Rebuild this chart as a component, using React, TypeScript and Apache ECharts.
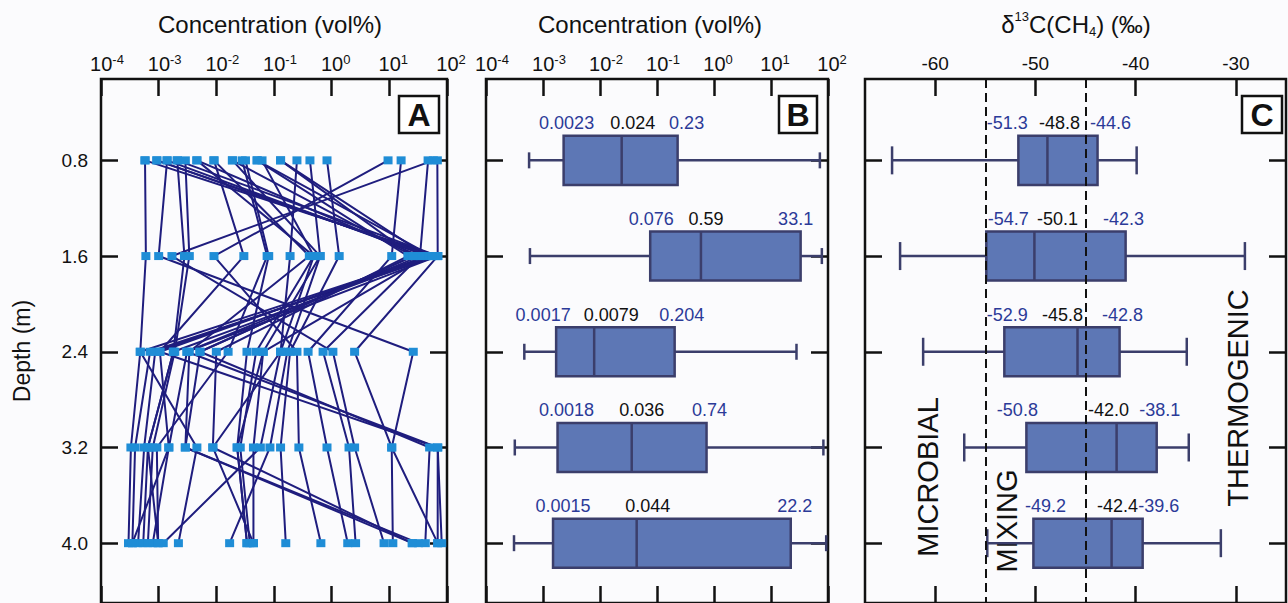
import React, { useEffect, useRef } from 'react';
import * as echarts from 'echarts';

const FONT = 'Liberation Sans, Arial, Helvetica, sans-serif';
const INK = '#111111';
const BLUE_TXT = '#2b3a98';
const BOX_FILL = '#5d77b5';
const BOX_EDGE = '#3b3e6b';

// ---------- data ----------
const depths = [0.8, 1.6, 2.4, 3.2, 4.0];
const depthTickLabels = ['0.8', '1.6', '2.4', '3.2', '4.0'];
const concTickExponents = ['-4', '-3', '-2', '-1', '0', '1', '2'];
const deltaTickValues = [-60, -50, -40, -30];
const deltaTickLabels = ['-60', '-50', '-40', '-30'];
const zoneBounds = [-55, -45];
const zoneNames = ['MICROBIAL', 'MIXING', 'THERMOGENIC'];
const panelLetters = ['A', 'B', 'C'];
const axisTitles = ['Concentration (vol%)', 'Concentration (vol%)'];

// Panel A: individual profiles, concentration (vol%) at 0.8, 1.6, 2.4, 3.2, 4.0 m
const profiles: number[][] = [
  [5.8e-4, 6.0e-4, 4.8e-4, 3.3e-4, 3.0e-4],
  [5.8e-4, 69, 7.1e-4, 3.9e-4, 3.5e-4],
  [9.3e-4, 55, 8.7e-4, 5.6e-4, 4.4e-4],
  [1.4e-3, 45, 1.05e-3, 69, 81],
  [2.1e-3, 2.8e-3, 1.8e-3, 6.5e-4, 5.4e-4],
  [2.9e-3, 3.4e-3, 1.9e-3, 7.9e-4, 6.5e-4],
  [4.6e-3, 34, 3.1e-3, 1.5e-3, 7.9e-4],
  [9.1e-3, 0.41, 3.4e-3, 2.9e-3, 32],
  [0.019, 26, 5.2e-3, 50, 42],
  [0.028, 0.076, 0.016, 9.3e-4, 9.8e-4],
  [0.032, 0.081, 0.034, 0.023, 0.034],
  [0.051, 21, 0.010, 8.7e-3, 25],
  [0.062, 0.49, 0.049, 0.026, 0.038],
  [0.13, 45, 0.065, 0.044, 0.044],
  [0.25, 0.19, 0.13, 0.058, 1.2e-3],
  [0.42, 0.63, 0.17, 0.085, 0.017],
  [0.83, 1.35, 0.19, 0.13, 0.16],
  [9.5, 9.1e-3, 0.25, 0.27, 0.65],
  [16, 11, 0.39, 0.83, 1.9],
  [47, 34, 0.71, 2.0, 2.6],
  [58, 1.7e-3, 1.05, 2.5, 8.1],
  [68, 69, 2.5, 11, 11.5],
  [1.4e-3, 1.0e-3, 26, 11, 69],
  [9.3e-4, 55, 4.8e-4, 4.6e-3, 2.2e-3],
  [2.1e-3, 69, 3.1e-3, 69, 69],
  [9.1e-3, 0.030, 1.05e-3, 1.5e-3, 3.5e-4],
  [0.051, 55, 1.8e-3, 6.5e-4, 9.8e-4],
  [0.13, 26, 5.2e-3, 2.9e-3, 25],
  [0.019, 0.63, 0.065, 0.023, 0.034],
  [4.6e-3, 0.49, 0.13, 8.7e-3, 0.044],
];

// Panel B: box statistics of concentration (vol%)
const concMin = [5.7e-4, 5.9e-4, 4.7e-4, 3.2e-4, 3.1e-4];
const concQ1 = [0.0023, 0.076, 0.0017, 0.0018, 0.0015];
const concMedian = [0.024, 0.59, 0.0079, 0.036, 0.044];
const concQ3 = [0.23, 33.1, 0.204, 0.74, 22.2];
const concMax = [72, 78, 28, 83, 93];
const concQ1Labels = ['0.0023', '0.076', '0.0017', '0.0018', '0.0015'];
const concMedLabels = ['0.024', '0.59', '0.0079', '0.036', '0.044'];
const concQ3Labels = ['0.23', '33.1', '0.204', '0.74', '22.2'];

// Panel C: box statistics of d13C(CH4) (permil)
const deltaMin = [-64.3, -63.5, -61.2, -57.1, -54.8];
const deltaQ1 = [-51.7, -54.9, -53.1, -50.9, -50.2];
const deltaMedian = [-48.8, -50.1, -45.8, -41.9, -42.4];
const deltaQ3 = [-43.8, -41.0, -41.6, -37.9, -39.3];
const deltaMax = [-39.9, -29.1, -34.9, -34.7, -31.5];
const deltaQ1Labels = ['-51.3', '-54.7', '-52.9', '-50.8', '-49.2'];
const deltaMedLabels = ['-48.8', '-50.1', '-45.8', '-42.0', '-42.4'];
const deltaQ3Labels = ['-44.6', '-42.3', '-42.8', '-38.1', '-39.6'];

// ---------- layout / style ----------
const GRID_TOP = 79;
const GRID_H = 525;
const GRIDS = [
  { left: 101, width: 346 },
  { left: 486, width: 342 },
  { left: 865, width: 421 },
];
const Y_MIN = 0.12;
const Y_MAX = 4.5;
const BOX_HALF = 0.205;
const LABEL_DY = -37;
// horizontal pixel nudges of the printed numbers [q1, median, q3]
const concLabelDx = [[3, 11, 9], [1, 5, -5], [-13, 17, 7], [9, 10, 3], [10, 11, 4]];
const deltaLabelDx = [[-15, 12, 21], [20, 23, 11], [1, -15, 15], [-10, -7, 5], [2, 6, 19]];

const tick = { show: true, inside: true, length: 17, lineStyle: { color: INK, width: 2.5 } };

function concLabel(show: boolean) {
  return {
    show,
    margin: 4,
    formatter: (v: number) => {
      const i = Math.round(Math.log10(v)) + 4;
      const e = concTickExponents[i] ?? '';
      return e.startsWith('-') ? `{bn|10}{s|${e}}` : `{bp|10}{s|${e}}`;
    },
    rich: {
      bn: { fontSize: 20, fontFamily: FONT, color: INK, lineHeight: 22, padding: [0, 0, 0, 12] },
      bp: { fontSize: 20, fontFamily: FONT, color: INK, lineHeight: 22, padding: [0, 0, 0, 8] },
      s: { fontSize: 13, fontFamily: FONT, color: INK, lineHeight: 12, verticalAlign: 'top' },
    },
  };
}

function makeXAxes(g: number) {
  const pos = ['top', 'bottom'];
  return pos.map((p) => {
    if (g < 2) {
      return {
        gridIndex: g, type: 'log', logBase: 10, position: p, min: 1e-4, max: 100,
        axisLine: { show: false }, splitLine: { show: false },
        axisTick: tick, axisLabel: concLabel(p === 'top'),
      };
    }
    return {
      gridIndex: g, type: 'value', position: p, min: -67, max: -25,
      axisLine: { show: false }, splitLine: { show: false },
      axisTick: { ...tick, customValues: deltaTickValues },
      axisLabel: {
        show: p === 'top', margin: 6, fontSize: 19, fontFamily: FONT, color: INK,
        customValues: deltaTickValues,
        formatter: (v: number) => deltaTickLabels[deltaTickValues.indexOf(v)] ?? String(v),
      },
    };
  });
}

function makeYAxes(g: number) {
  return ['left', 'right'].map((p) => ({
    gridIndex: g, type: 'value', position: p, inverse: true, min: Y_MIN, max: Y_MAX,
    axisLine: { show: false }, splitLine: { show: false },
    axisTick: { ...tick, customValues: depths },
    axisLabel: {
      show: g === 0 && p === 'left', margin: 13, fontSize: 19, fontFamily: FONT, color: INK,
      customValues: depths,
      formatter: (v: number) => depthTickLabels[depths.indexOf(v)] ?? String(v),
    },
  }));
}

function txt(text: string, fill: string, size: number, x: number, y: number) {
  return {
    type: 'text', x, y,
    style: {
      text, fill, fontSize: size, fontFamily: FONT,
      align: 'center', verticalAlign: 'middle', textAlign: 'center', textVerticalAlign: 'middle',
    },
  };
}

function boxRenderer(
  q1L: string[], medL: string[], q3L: string[], dx: number[][], capHalf: number, fontSize: number,
) {
  return (params: any, api: any) => {
    const i = params.dataIndex;
    const d = api.value(0);
    const vals = [1, 2, 3, 4, 5].map((k) => api.value(k));
    const pts = vals.map((v) => api.coord([v, d]));
    const yc = pts[0][1];
    const ya = api.coord([vals[2], d - BOX_HALF])[1];
    const yb = api.coord([vals[2], d + BOX_HALF])[1];
    const top = Math.min(ya, yb);
    const bot = Math.max(ya, yb);
    const st = { stroke: BOX_EDGE, lineWidth: 2.5, fill: null };
    const ln = (x1: number, y1: number, x2: number, y2: number) => ({
      type: 'line', shape: { x1, y1, x2, y2 }, style: st,
    });
    const [xmin, xq1, xmed, xq3, xmax] = pts.map((p: number[]) => p[0]);
    const labels = [q1L[i], medL[i], q3L[i]];
    const colors = [BLUE_TXT, INK, BLUE_TXT];
    const labelEls = labels.map((s, k) => {
      const px = api.coord([Number(s), d])[0] + dx[i][k];
      return txt(s, colors[k], fontSize, px, yc + LABEL_DY);
    });
    return {
      type: 'group',
      children: [
        ln(xmin, yc, xq1, yc),
        ln(xq3, yc, xmax, yc),
        ln(xmin, yc - capHalf, xmin, yc + capHalf),
        ln(xmax, yc - capHalf, xmax, yc + capHalf),
        {
          type: 'rect',
          shape: { x: xq1, y: top, width: xq3 - xq1, height: bot - top },
          style: { fill: BOX_FILL, stroke: BOX_EDGE, lineWidth: 2.5 },
        },
        ln(xmed, top, xmed, bot),
        ...labelEls,
      ],
    };
  };
}

function buildOption() {
  const lineSeries = profiles.map((p) => ({
    type: 'line', xAxisIndex: 0, yAxisIndex: 0, silent: true, showSymbol: false, symbol: 'none',
    data: p.map((v, k) => [v, depths[k]]),
    lineStyle: { color: '#1f1d7e', width: 2 },
    z: 2,
  }));
  const pointData: number[][] = [];
  profiles.forEach((p) => p.forEach((v, k) => pointData.push([v, depths[k]])));

  const boxB = depths.map((d, k) => [d, concMin[k], concQ1[k], concMedian[k], concQ3[k], concMax[k]]);
  const boxC = depths.map((d, k) => [d, deltaMin[k], deltaQ1[k], deltaMedian[k], deltaQ3[k], deltaMax[k]]);

  const letterBoxes = [
    { x: 399, w: 40 },
    { x: 779, w: 38 },
    { x: 1242, w: 40 },
  ];

  const graphic: any[] = [];
  letterBoxes.forEach((b, k) => {
    graphic.push({
      type: 'rect', shape: { x: b.x, y: 96, width: b.w, height: 37 },
      style: { fill: '#ffffff', stroke: INK, lineWidth: 2.5 }, z: 20,
    });
    graphic.push({
      type: 'text', x: b.x + b.w / 2, y: 115, z: 21,
      style: {
        text: panelLetters[k], fill: INK, fontSize: 32, fontWeight: 'bold', fontFamily: FONT,
        align: 'center', verticalAlign: 'middle', textAlign: 'center', textVerticalAlign: 'middle',
      },
    });
  });
  graphic.push({ ...txt(axisTitles[0], INK, 24, 270, 24) });
  graphic.push({ ...txt(axisTitles[1], INK, 24, 650, 24) });
  graphic.push({
    type: 'text', x: 1076, y: 24,
    style: {
      text: '{a|δ}{p|13}{a|C(CH}{b|4}{a|) (‰)}',
      align: 'center', verticalAlign: 'middle', textAlign: 'center', textVerticalAlign: 'middle',
      rich: {
        a: { fontSize: 24, fontFamily: FONT, fill: INK, lineHeight: 28 },
        p: { fontSize: 13, fontFamily: FONT, fill: INK, lineHeight: 13, verticalAlign: 'top' },
        b: { fontSize: 13, fontFamily: FONT, fill: INK, lineHeight: 15, verticalAlign: 'bottom' },
      },
    },
  });
  graphic.push({ ...txt('Depth (m)', INK, 23, 22, 351), rotation: Math.PI / 2 });
  const zonePos = [
    [928, 477],
    [1007, 521],
    [1238, 398],
  ];
  zoneNames.forEach((n, k) => {
    graphic.push({ ...txt(n, INK, 29, zonePos[k][0], zonePos[k][1]), rotation: Math.PI / 2 });
  });

  return {
    animation: false,
    backgroundColor: '#fbfbfd',
    grid: GRIDS.map((g) => ({
      left: g.left, width: g.width, top: GRID_TOP, height: GRID_H,
      show: true, borderColor: INK, borderWidth: 2.5, backgroundColor: 'transparent',
    })),
    xAxis: [0, 1, 2].flatMap((g) => makeXAxes(g)),
    yAxis: [0, 1, 2].flatMap((g) => makeYAxes(g)),
    series: [
      ...lineSeries,
      {
        type: 'scatter', xAxisIndex: 0, yAxisIndex: 0, silent: true,
        symbol: 'rect', symbolSize: [9, 8], data: pointData,
        itemStyle: { color: '#1f8dd6', opacity: 1 }, z: 4,
      },
      {
        type: 'custom', xAxisIndex: 2, yAxisIndex: 2, silent: true,
        encode: { x: [1, 2, 3, 4, 5], y: 0 },
        data: boxB,
        renderItem: boxRenderer(concQ1Labels, concMedLabels, concQ3Labels, concLabelDx, 8, 18),
        z: 3,
      },
      {
        type: 'custom', xAxisIndex: 4, yAxisIndex: 4, silent: true,
        encode: { x: [1, 2, 3, 4, 5], y: 0 },
        data: boxC,
        renderItem: boxRenderer(deltaQ1Labels, deltaMedLabels, deltaQ3Labels, deltaLabelDx, 14, 18),
        z: 3,
      },
      {
        type: 'line', xAxisIndex: 4, yAxisIndex: 4, data: [], silent: true, z: 6,
        markLine: {
          silent: true, symbol: ['none', 'none'], label: { show: false }, animation: false,
          lineStyle: { color: INK, width: 2, type: [9, 5] },
          data: zoneBounds.map((x) => ({ xAxis: x })),
          z: 6,
        },
      },
    ],
    graphic,
  };
}

export default function App() {
  const ref = useRef<HTMLDivElement>(null);
  useEffect(() => {
    if (!ref.current) return;
    const chart = echarts.init(ref.current, null, { renderer: 'svg' });
    chart.setOption(buildOption() as any);
    return () => chart.dispose();
  }, []);
  return (
    <div
      ref={ref}
      style={{ position: 'fixed', left: 0, top: 0, width: 1288, height: 603 }}
    />
  );
}
